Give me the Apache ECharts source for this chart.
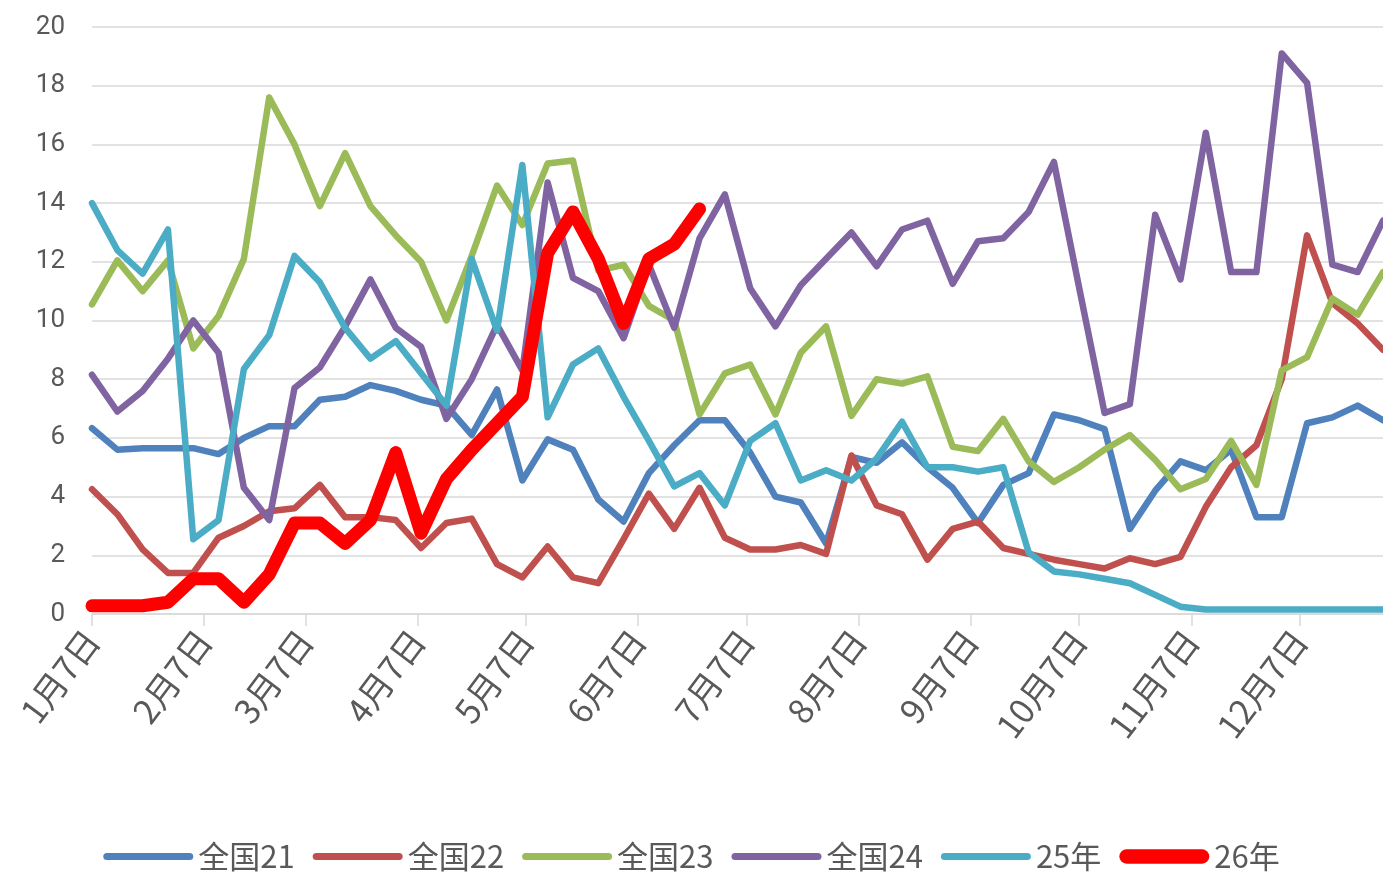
<!DOCTYPE html>
<html>
<head>
<meta charset="utf-8">
<script src="https://cdn.jsdelivr.net/npm/echarts@6/dist/echarts.min.js"></script>
<style>
  html, body { margin: 0; padding: 0; background: #fff; }
  #chart { width: 1383px; height: 881px; }
</style>
</head>
<body>
<div id="chart"></div>
<script>
// 周数据：从1月7日起每7天一个点
var seriesNames = ['全国21', '全国22', '全国23', '全国24', '25年', '26年'];
var seriesColors = ['#4F81BD', '#C0504D', '#9BBB59', '#8064A2', '#4BACC6', '#FF0000'];

// 月份刻度（距1月7日的天数）和标签
var monthTicks = [0, 31, 59, 90, 120, 151, 181, 212, 243, 273, 304, 334];
var monthLabels = ['1月7日', '2月7日', '3月7日', '4月7日', '5月7日', '6月7日',
  '7月7日', '8月7日', '9月7日', '10月7日', '11月7日', '12月7日'];

var data21 = [6.33, 5.6, 5.65, 5.65, 5.65, 5.45, 6.0, 6.4, 6.4, 7.3, 7.4, 7.8, 7.6, 7.3, 7.1, 6.1,
  7.65, 4.55, 5.95, 5.6, 3.9, 3.15, 4.8, 5.75, 6.6, 6.6, 5.5, 4.0, 3.8, 2.4, 5.35, 5.15,
  5.85, 5.0, 4.3, 3.1, 4.4, 4.8, 6.8, 6.6, 6.3, 2.9, 4.2, 5.2, 4.9, 5.6, 3.3, 3.3,
  6.5, 6.7, 7.1, 6.6];
var data22 = [4.25, 3.4, 2.2, 1.4, 1.4, 2.6, 3.0, 3.5, 3.6, 4.4, 3.3, 3.3, 3.2, 2.25, 3.1, 3.25,
  1.7, 1.25, 2.3, 1.25, 1.05, 2.55, 4.1, 2.9, 4.3, 2.6, 2.2, 2.2, 2.35, 2.05, 5.4, 3.7,
  3.4, 1.85, 2.9, 3.15, 2.25, 2.05, 1.85, 1.7, 1.55, 1.9, 1.7, 1.95, 3.65, 5.0, 5.75, 8.0,
  12.9, 10.6, 9.9, 9.0];
var data23 = [10.55, 12.05, 11.0, 12.05, 9.05, 10.15, 12.1, 17.6, 16.0, 13.9, 15.7, 13.9, 12.9, 12.0, 10.0, 12.2,
  14.6, 13.25, 15.35, 15.45, 11.7, 11.9, 10.5, 10.0, 6.8, 8.2, 8.5, 6.8, 8.9, 9.8, 6.75, 8.0,
  7.85, 8.1, 5.7, 5.55, 6.65, 5.2, 4.5, 5.0, 5.6, 6.1, 5.25, 4.25, 4.6, 5.9, 4.4, 8.3,
  8.75, 10.75, 10.2, 11.65];
var data24 = [8.15, 6.9, 7.6, 8.7, 10.0, 8.9, 4.3, 3.2, 7.7, 8.4, 9.8, 11.4, 9.75, 9.1, 6.65, 8.0,
  9.85, 8.3, 14.7, 11.45, 11.0, 9.4, 11.9, 9.75, 12.8, 14.3, 11.1, 9.8, 11.2, 12.1, 13.0, 11.85,
  13.1, 13.4, 11.25, 12.7, 12.8, 13.7, 15.4, 11.1, 6.85, 7.15, 13.6, 11.4, 16.4, 11.65, 11.65, 19.1,
  18.1, 11.9, 11.65, 13.4];
var data25 = [14.0, 12.4, 11.6, 13.1, 2.55, 3.2, 8.35, 9.5, 12.2, 11.3, 9.75, 8.7, 9.3, 8.2, 7.1, 12.1,
  9.65, 15.3, 6.7, 8.5, 9.05, 7.4, 5.9, 4.35, 4.8, 3.7, 5.9, 6.5, 4.55, 4.9, 4.55, 5.3,
  6.55, 5.0, 5.0, 4.85, 5.0, 2.1, 1.45, 1.35, 1.2, 1.05, 0.65, 0.25, 0.15, 0.15, 0.15, 0.15,
  0.15, 0.15, 0.15, 0.15];
var data26 = [0.28, 0.28, 0.28, 0.4, 1.2, 1.2, 0.4, 1.35, 3.1, 3.1, 2.4, 3.2, 5.5, 2.75, 4.6, 5.6,
  6.5, 7.4, 12.3, 13.7, 12.1, 9.9, 12.1, 12.6, 13.8];

var allData = [data21, data22, data23, data24, data25, data26];

// 每周一个点，横坐标为天数
function toPoints(arr) {
  return arr.map(function (v, i) { return [i * 7, v]; });
}

// 图例用圆头线条，26年更粗
var thinIcon = 'path://M4,0 h92 a4,4 0 0 1 0,8 h-92 a4,4 0 0 1 0,-8 z';
var thickIcon = 'path://M8,0 h84 a8,8 0 0 1 0,16 h-84 a8,8 0 0 1 0,-16 z';

var chart = echarts.init(document.getElementById('chart'), null, { renderer: 'canvas' });

var seriesList = [];
var legendData = [];
for (var i = 0; i < allData.length; i++) {
  seriesList.push({
    name: seriesNames[i],
    type: 'line',
    data: toPoints(allData[i]),
    symbol: 'none',
    smooth: false,
    color: seriesColors[i],
    lineStyle: {
      width: i === 5 ? 13 : 6.5,
      color: seriesColors[i],
      cap: 'round',
      join: 'round'
    },
    z: i === 5 ? 10 : 2 + i
  });
  legendData.push({ name: seriesNames[i], icon: i === 5 ? thickIcon : thinIcon });
}

var option = {
  animation: false,
  backgroundColor: '#ffffff',
  grid: { left: 92, right: 0, top: 27, bottom: 267, containLabel: false },
  legend: {
    bottom: 4,
    left: 'center',
    itemWidth: 90,
    itemHeight: 15,
    itemGap: 18,
    symbolKeepAspect: true,
    textStyle: { fontSize: 31, color: '#595959', fontFamily: 'Noto Sans CJK SC' },
    data: legendData
  },
  xAxis: {
    type: 'value',
    min: 0,
    max: 357,
    axisLine: { show: true, lineStyle: { color: '#d9d9d9', width: 1.5 } },
    axisTick: { show: true, length: 12, customValues: monthTicks, lineStyle: { color: '#d9d9d9', width: 1.5 } },
    splitLine: { show: false },
    axisLabel: {
      customValues: monthTicks,
      rotate: 53,
      margin: 20,
      fontSize: 34,
      color: '#595959',
      fontFamily: 'Noto Sans CJK SC',
      formatter: function (val) {
        var idx = monthTicks.indexOf(Math.round(val));
        return idx >= 0 ? monthLabels[idx] : '';
      }
    }
  },
  yAxis: {
    type: 'value',
    min: 0,
    max: 20,
    interval: 2,
    axisLine: { show: false },
    axisTick: { show: false },
    splitLine: { lineStyle: { color: '#d9d9d9', width: 1.5 } },
    axisLabel: {
      margin: 27,
      fontSize: 26,
      color: '#595959',
      fontFamily: 'Liberation Sans Narrow, Roboto, sans-serif'
    }
  },
  series: seriesList
};

chart.setOption(option);
</script>
</body>
</html>
